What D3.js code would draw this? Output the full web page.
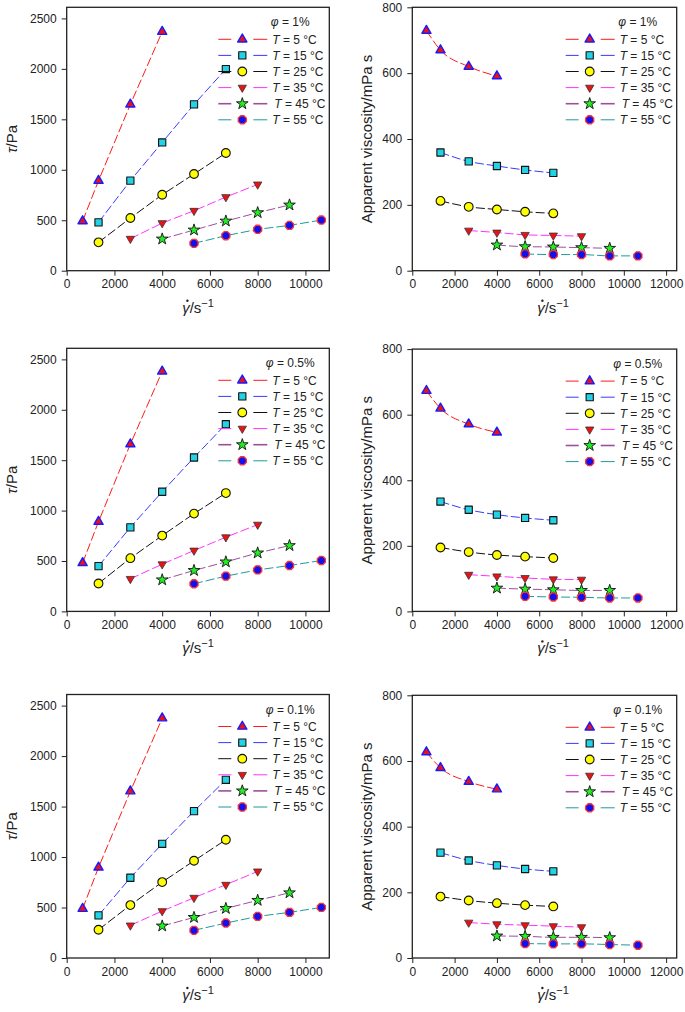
<!DOCTYPE html>
<html><head><meta charset="utf-8">
<script src="https://cdn.jsdelivr.net/npm/d3@7"></script>
<style>body{margin:0;background:#fff} svg{display:block} text{font-family:"Liberation Sans",Arial,Helvetica,sans-serif;fill:#222}</style>
</head><body><svg id="c" width="685" height="1012"></svg>
<script>
// ---------- DATA ----------
const tempLabels = ["5", "15", "25", "35", "45", "55"];
const phiLabels = ["1%", "0.5%", "0.1%"];
const xTicksLeft = [0, 2000, 4000, 6000, 8000, 10000];
const xTicksRight = [0, 2000, 4000, 6000, 8000, 10000, 12000];
const yTicksTau = [0, 500, 1000, 1500, 2000, 2500];
const yTicksVisc = [0, 200, 400, 600, 800];

// shear rates (1/s) for each temperature
const gammaT5 = [667, 1333, 2667, 4000];
const gammaT15 = [1333, 2667, 4000, 5333, 6667];
const gammaT25 = [1333, 2667, 4000, 5333, 6667];
const gammaT35 = [2667, 4000, 5333, 6667, 8000];
const gammaT45 = [4000, 5333, 6667, 8000, 9333];
const gammaT55 = [5333, 6667, 8000, 9333, 10667];

// shear stress (Pa), phi = 1 %
const tau1T5 = [492, 892, 1648, 2368];
const tau1T15 = [479, 892, 1271, 1648, 1998];
const tau1T25 = [281, 522, 753, 958, 1166];
const tau1T35 = [317, 472, 594, 730, 855];
const tau1T45 = [314, 403, 492, 575, 651];
const tau1T55 = [271, 347, 410, 449, 502];
// apparent viscosity (mPa s), phi = 1 %
const visc1T5 = [729, 670, 620, 591];
const visc1T15 = [359, 332, 318, 306, 297];
const visc1T25 = [212, 194, 186, 179, 174];
const visc1T35 = [122, 116, 109, 107, 105];
const visc1T45 = [78, 73, 72, 70, 68];
const visc1T55 = [51, 49, 49, 45, 45];

// phi = 0.5 %
const tau05T5 = [481, 890, 1659, 2381];
const tau05T15 = [449, 834, 1187, 1527, 1857];
const tau05T25 = [277, 528, 752, 970, 1174];
const tau05T35 = [323, 468, 604, 736, 861];
const tau05T45 = [313, 406, 491, 580, 653];
const tau05T55 = [274, 350, 412, 455, 505];
const visc05T5 = [673, 619, 571, 546];
const visc05T15 = [335, 310, 295, 285, 278];
const visc05T25 = [195, 181, 172, 167, 163];
const visc05T35 = [112, 107, 102, 98, 97];
const visc05T45 = [71, 68, 66, 64, 64];
const visc05T55 = [46, 44, 43, 41, 41];

// phi = 0.1 %
const tau01T5 = [488, 897, 1652, 2375];
const tau01T15 = [422, 795, 1131, 1455, 1765];
const tau01T25 = [280, 524, 752, 963, 1171];
const tau01T35 = [323, 465, 597, 726, 858];
const tau01T45 = [317, 402, 491, 571, 646];
const tau01T55 = [274, 346, 412, 452, 501];
const visc01T5 = [627, 579, 537, 514];
const visc01T15 = [321, 297, 282, 271, 264];
const visc01T25 = [187, 175, 167, 161, 157];
const visc01T35 = [108, 103, 100, 97, 94];
const visc01T45 = [67, 66, 63, 63, 62];
const visc01T55 = [44, 43, 43, 41, 39];

// ---------- STYLE ----------
const gammas = [gammaT5, gammaT15, gammaT25, gammaT35, gammaT45, gammaT55];
const styles = [
  {line: "#ff1a1a", shape: "triUp", fill: "#ee1111", stroke: "#1a1aff", sw: 1.4, size: 36},
  {line: "#3a3aff", shape: "square", fill: "#22d3e6", stroke: "#111", sw: 1.1, size: 52},
  {line: "#111111", shape: "circle", fill: "#ffff00", stroke: "#111", sw: 1.1, size: 60},
  {line: "#ff33ff", shape: "triDown", fill: "#ee1111", stroke: "#333", sw: 0.8, size: 30},
  {line: "#9c4f9c", shape: "star", fill: "#22ee22", stroke: "#111", sw: 0.9, size: 42},
  {line: "#1f9a9a", shape: "hex", fill: "#1111ee", stroke: "#ff3333", sw: 1.3, size: 58}
];

const svg = d3.select("#c");
const font = '"Liberation Sans",Arial,Helvetica,sans-serif';

function markerPath(st) {
  if (st.shape === "triUp" || st.shape === "triDown") return d3.symbol(d3.symbolTriangle, st.size)();
  if (st.shape === "square") return d3.symbol(d3.symbolSquare, st.size)();
  if (st.shape === "circle") return d3.symbol(d3.symbolCircle, st.size)();
  if (st.shape === "star") return d3.symbol(d3.symbolStar, st.size)();
  const r = Math.sqrt(st.size / Math.PI) * 1.02;
  const pts = d3.range(8).map(i => { const a = Math.PI / 8 + i * Math.PI / 4; return [r * Math.cos(a), r * Math.sin(a)]; });
  return "M" + pts.map(p => p.join(",")).join("L") + "Z";
}
function drawMarker(g, x, y, st) {
  g.append("path").attr("d", markerPath(st))
    .attr("transform", `translate(${x},${y})` + (st.shape === "triDown" ? " rotate(180)" : ""))
    .attr("fill", st.fill).attr("stroke", st.stroke).attr("stroke-width", st.sw)
    .attr("stroke-linejoin", "round");
}

function drawPanel(p) {
  const g = svg.append("g");
  const x = d3.scaleLinear().domain([0, p.xMax]).range([p.x0, p.x1]);
  const y = d3.scaleLinear().domain([0, p.yMax]).range([p.bottom, p.top]);

  const xa = g.append("g").attr("transform", `translate(0,${p.bottom})`)
    .call(d3.axisBottom(x).tickValues(p.xTicks).tickFormat(d3.format("d")).tickSize(5).tickPadding(4));
  const ya = g.append("g").attr("transform", `translate(${p.x0},0)`)
    .call(d3.axisLeft(y).tickValues(p.yTicks).tickFormat(d3.format("d")).tickSize(5).tickPadding(5));
  [xa, ya].forEach(a => {
    a.select(".domain").remove();
    a.selectAll(".tick line").attr("stroke", "#222").attr("stroke-width", 1);
    a.selectAll(".tick text").attr("font-size", 12).attr("font-family", font).attr("fill", "#222");
  });

  g.append("rect").attr("x", p.x0).attr("y", p.top).attr("width", p.x1 - p.x0).attr("height", p.bottom - p.top)
    .attr("fill", "none").attr("stroke", "#222").attr("stroke-width", 1.3);

  const line = d3.line().x(d => x(d[0])).y(d => y(d[1])).curve(p.curve);
  p.series.forEach((vals, i) => {
    const pts = gammas[i].map((gm, j) => [gm, vals[j]]);
    g.append("path").attr("d", line(pts)).attr("fill", "none")
      .attr("stroke", styles[i].line).attr("stroke-width", 1).attr("stroke-dasharray", "9,3");
  });
  p.series.forEach((vals, i) => {
    gammas[i].forEach((gm, j) => drawMarker(g, x(gm), y(vals[j]), styles[i]));
  });

  const lg = g.append("g");
  const phiT = lg.append("text").attr("x", p.x1 - 39).attr("y", p.top + 19).attr("text-anchor", "middle").attr("font-size", 12);
  phiT.append("tspan").attr("font-style", "italic").text("φ");
  phiT.append("tspan").text(" = " + p.phi);
  styles.forEach((st, i) => {
    const ly = p.top + 32 + i * 16.1;
    lg.append("line").attr("x1", p.x1 - 111).attr("x2", p.x1 - 98).attr("y1", ly).attr("y2", ly)
      .attr("stroke", st.line).attr("stroke-width", i === 4 ? 1.6 : 1);
    lg.append("line").attr("x1", p.x1 - 76).attr("x2", p.x1 - 62).attr("y1", ly).attr("y2", ly)
      .attr("stroke", st.line).attr("stroke-width", i === 4 ? 1.6 : 1);
    drawMarker(lg, p.x1 - 87, ly, st);
    const t = lg.append("text").attr("x", p.x1 - 57 + (i === 4 ? 2 : 0)).attr("y", ly + 4.3).attr("font-size", 12);
    t.append("tspan").attr("font-style", "italic").text("T");
    t.append("tspan").text(" = " + tempLabels[i] + " °C");
  });

  const yt = g.append("text").attr("transform", `translate(${p.yTitleX},${(p.top + p.bottom) / 2}) rotate(-90)`)
    .attr("text-anchor", "middle").attr("font-size", 15);
  if (p.kind === "tau") {
    yt.append("tspan").attr("font-style", "italic").text("τ");
    yt.append("tspan").text("/Pa");
  } else {
    yt.text("Apparent viscosity/mPa s");
  }

  const xt = g.append("text").attr("x", p.xTitleX).attr("y", p.bottom + 42).attr("text-anchor", "middle").attr("font-size", 15);
  xt.append("tspan").attr("font-style", "italic").text("γ");
  xt.append("tspan").text("/s");
  xt.append("tspan").attr("dy", -6).attr("font-size", 11).text("−1");
  const n = xt.node();
  const s0 = n.getStartPositionOfChar(0), e0 = n.getEndPositionOfChar(0);
  g.append("circle").attr("cx", (s0.x + e0.x) / 2 + 1.5).attr("cy", p.bottom + 42 - 12).attr("r", 1.2).attr("fill", "#222");
}

const rows = [
  {top: 7.3, bottom: 270.7},
  {top: 348.3, bottom: 611.4},
  {top: 694.5, bottom: 958}
];
const tauSets = [
  [tau1T5, tau1T15, tau1T25, tau1T35, tau1T45, tau1T55],
  [tau05T5, tau05T15, tau05T25, tau05T35, tau05T45, tau05T55],
  [tau01T5, tau01T15, tau01T25, tau01T35, tau01T45, tau01T55]
];
const viscSets = [
  [visc1T5, visc1T15, visc1T25, visc1T35, visc1T45, visc1T55],
  [visc05T5, visc05T15, visc05T25, visc05T35, visc05T45, visc05T55],
  [visc01T5, visc01T15, visc01T25, visc01T35, visc01T45, visc01T55]
];

rows.forEach((r, k) => {
  drawPanel({kind: "tau", x0: 66.7, x1: 329.3, top: r.top, bottom: r.bottom, xMax: 11000, yMax: 2610,
    xTicks: xTicksLeft, yTicks: yTicksTau, series: tauSets[k], phi: phiLabels[k],
    curve: d3.curveLinear, yTitleX: 17, xTitleX: 198});
  drawPanel({kind: "visc", x0: 412.3, x1: 676.7, top: r.top + (k ? 0.8 : 0), bottom: r.bottom, xMax: 12500, yMax: 800,
    xTicks: xTicksRight, yTicks: yTicksVisc, series: viscSets[k], phi: phiLabels[k],
    curve: d3.curveMonotoneX, yTitleX: 372, xTitleX: 553});
});
</script></body></html>
